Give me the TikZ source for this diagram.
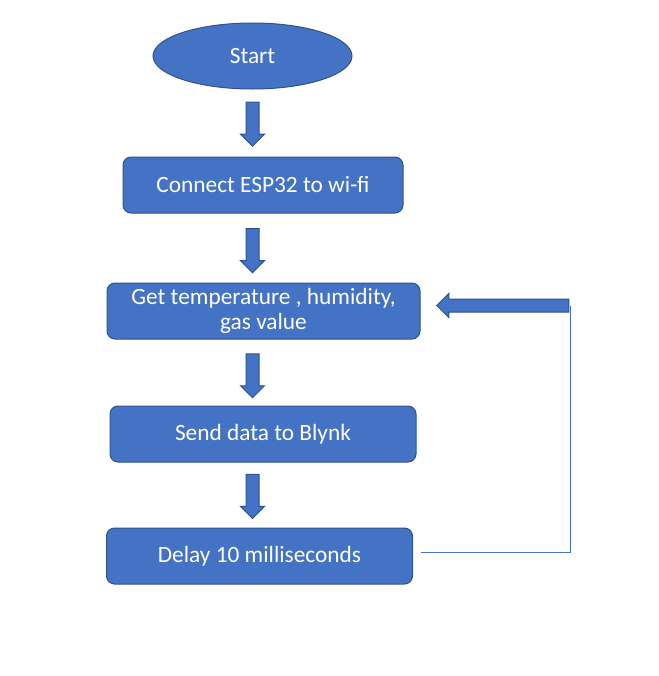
\documentclass[tikz,border=0pt]{standalone}
\usepackage{fontspec}
\setmainfont{Carlito}
\usetikzlibrary{shapes.geometric, shapes.arrows}
\definecolor{boxblue}{HTML}{4472C4}
\definecolor{edgeblue}{HTML}{2F528F}

\begin{document}
\begin{tikzpicture}[x=0.75pt, y=-0.75pt,
	main node/.style={rectangle, rounded corners=6pt, fill=boxblue, draw=edgeblue, line width=0.75pt, text=white, font=\fontsize{17.5}{18.75}\selectfont, align=center, minimum height=42pt, inner sep=0pt},
	start node/.style={ellipse, fill=boxblue, draw=edgeblue, line width=0.75pt, text=white, font=\fontsize{17.5}{18.75}\selectfont, minimum width=149.25pt, minimum height=49.5pt, inner sep=0pt},
	block arrow/.style={single arrow, fill=boxblue, draw=edgeblue, line width=0.75pt, inner xsep=0pt, inner ysep=4.5pt, single arrow head extend=4.125pt, minimum height=33pt, sloped, allow upside down},
	feedback line/.style={draw=boxblue, line width=0.75pt}]

	\useasboundingbox (0,0) rectangle (659,676);

	\node[start node] (start) at (252.5,56) {Start};
	\node[main node, minimum width=210pt] (wifi) at (263,185) {Connect ESP32 to wi-fi};
	\node[main node, minimum width=234.75pt] (read) at (263.5,311) {Get temperature , humidity,\\gas value};
	\node[main node, minimum width=229.5pt] (send) at (263,434) {Send data to Blynk};
	\node[main node, minimum width=229.5pt] (delay) at (259.5,556) {Delay 10 milliseconds};

	% block arrows down the spine
	\path (start.south) -- node[block arrow, pos=0.47] (a1) {} (start.south |- wifi.north);
	\path (start.south |- wifi.south) -- node[block arrow, pos=0.49] (a2) {} (start.south |- read.north);
	\path (start.south |- read.south) -- node[block arrow, pos=0.5] (a3) {} (start.south |- send.north);
	\path (start.south |- send.south) -- node[block arrow, pos=0.47] (a4) {} (start.south |- delay.north);

	% loop back from delay to reading
	\coordinate (back) at (570.5,305.5);
	\draw[feedback line] ([shift={(6pt,3pt)}]delay.east) -| (back);
	\path (back) -- node[block arrow, pos=0.43, minimum height=99pt] (a5) {} (read.east |- back);

\end{tikzpicture}
\end{document}
